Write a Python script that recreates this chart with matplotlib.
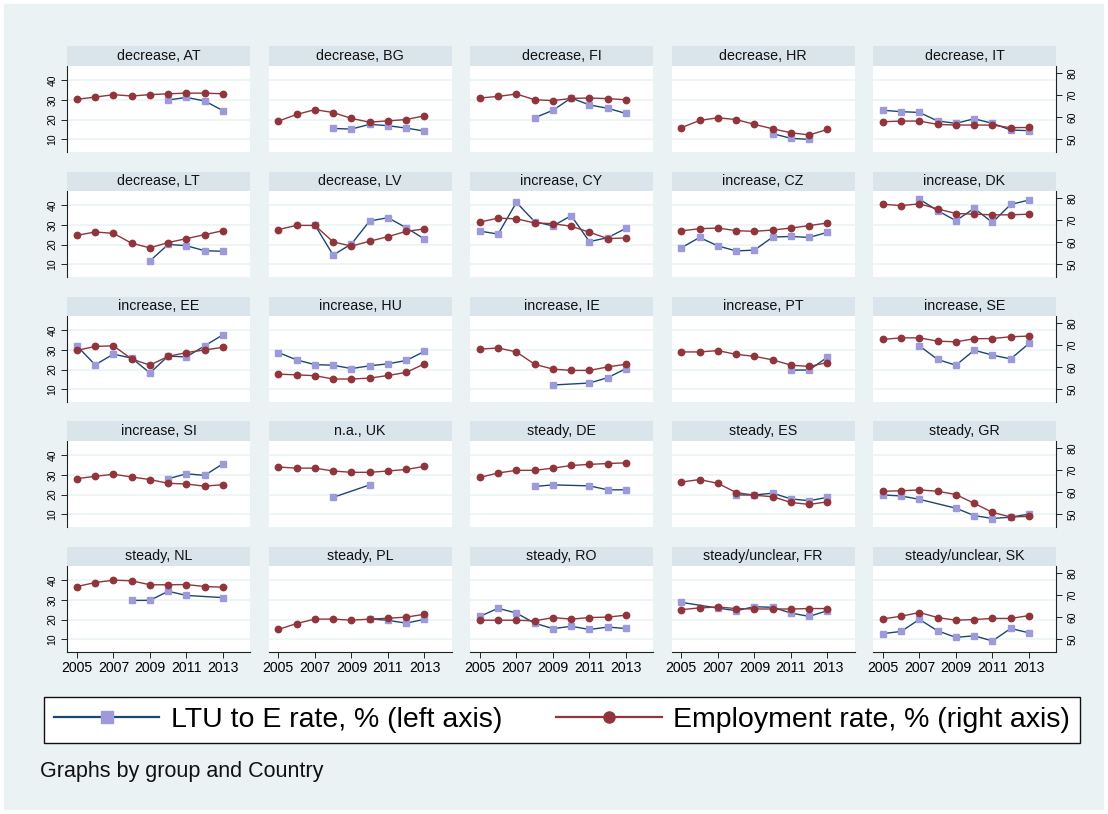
import numpy as np
import matplotlib
matplotlib.use('Agg')
import matplotlib.pyplot as plt
from matplotlib.patches import Rectangle
from matplotlib.lines import Line2D

plt.rcParams['font.family'] = ['Liberation Sans', 'DejaVu Sans']

nan = np.nan
years = np.arange(2005, 2014)
xticks = [2005, 2007, 2009, 2011, 2013]

# LTU to E rate (left axis) and employment rate (right axis), 2005-2013
AT_ltu = [nan, nan, nan, nan, nan, 29.9, 31.2, 29.4, 24.5]
AT_emp = [68.2, 69.2, 70.3, 69.7, 70.3, 70.7, 71.0, 71.0, 70.7]
BG_ltu = [nan, nan, nan, 15.5, 15.2, 17.6, 16.9, 15.7, 14.2]
BG_emp = [58.3, 61.3, 63.5, 62.2, 59.5, 57.8, 58.4, 59.0, 60.7]
FI_ltu = [nan, nan, nan, 20.9, 24.7, 30.9, 27.4, 25.7, 23.1]
FI_emp = [68.8, 69.5, 70.6, 68.0, 67.6, 68.6, 68.8, 68.5, 68.0]
HR_ltu = [nan, nan, nan, nan, nan, 12.9, 10.5, 10.0, nan]
HR_emp = [55.3, 58.6, 59.8, 59.0, 56.8, 54.8, 53.0, 52.0, 54.5]
IT_ltu = [24.7, 24.0, 23.6, 19.3, 18.1, 20.4, 18.1, 14.7, 14.4]
IT_emp = [58.0, 58.3, 58.3, 56.8, 56.5, 56.5, 56.5, 55.3, 55.4]
LT_ltu = [nan, nan, nan, nan, 11.7, 20.1, 19.4, 16.9, 16.6]
LT_emp = [63.2, 64.7, 64.1, 59.6, 57.5, 59.9, 61.7, 63.5, 65.3]
LV_ltu = [nan, nan, 29.9, 14.7, 20.3, 31.9, 33.6, 28.5, 22.8]
LV_emp = [65.8, 67.7, 67.7, 60.2, 58.3, 60.5, 62.6, 65.0, 66.1]
CY_ltu = [26.8, 25.3, 41.3, 31.6, 29.4, 34.6, 21.5, 23.5, 28.2]
CY_emp = [69.2, 71.0, 70.7, 68.8, 68.5, 67.3, 64.6, 61.7, 62.0]
CZ_ltu = [18.4, 23.6, 19.3, 16.8, 17.2, 23.8, 24.1, 23.6, 26.2]
CZ_emp = [65.2, 66.2, 66.5, 65.3, 65.0, 65.6, 66.5, 67.6, 68.8]
DK_ltu = [nan, nan, 43.0, 37.1, 32.1, 38.3, 31.2, 40.3, 42.5]
DK_emp = [77.3, 76.7, 77.5, 75.2, 73.1, 72.8, 72.5, 72.5, 72.8]
EE_ltu = [32.0, 22.4, 27.8, 25.8, 18.3, 26.8, 26.4, 32.0, 37.6]
EE_emp = [67.7, 69.5, 69.8, 63.8, 61.0, 65.0, 66.7, 67.9, 69.1]
HU_ltu = [28.6, 24.9, 22.5, 22.2, 20.5, 21.9, 22.9, 24.6, 29.2]
HU_emp = [56.9, 56.6, 56.2, 54.7, 54.7, 55.1, 56.3, 57.7, 61.6]
IE_ltu = [nan, nan, nan, nan, 12.2, nan, 13.2, 15.9, 20.5]
IE_emp = [68.3, 68.8, 67.0, 61.4, 59.2, 58.6, 58.6, 60.2, 61.4]
PT_ltu = [nan, nan, nan, nan, nan, nan, 19.7, 19.8, 26.3]
PT_emp = [67.0, 67.0, 67.6, 65.9, 65.0, 63.4, 61.0, 60.4, 62.2]
SE_ltu = [nan, nan, 32.0, 25.1, 22.2, 29.8, 27.3, 25.4, 33.2]
SE_emp = [72.7, 73.4, 73.4, 71.9, 71.6, 73.0, 73.1, 73.9, 74.2]
SI_ltu = [nan, nan, nan, nan, nan, 28.0, 30.5, 29.7, 35.6]
SI_emp = [66.2, 67.3, 68.2, 67.0, 65.8, 64.1, 63.8, 62.8, 63.5]
UK_ltu = [nan, nan, nan, 18.6, nan, 24.9, nan, nan, nan]
UK_emp = [71.5, 71.0, 71.0, 69.7, 69.1, 69.1, 69.7, 70.4, 71.8]
DE_ltu = [nan, nan, nan, 24.1, 24.9, nan, 24.4, 22.4, 22.4]
DE_emp = [66.8, 68.8, 70.0, 70.0, 71.0, 72.2, 72.7, 73.1, 73.4]
ES_ltu = [nan, nan, nan, 19.8, 19.8, 20.7, 17.8, 16.9, 18.6]
ES_emp = [64.7, 65.8, 64.1, 59.9, 58.7, 58.0, 55.4, 54.5, 55.7]
GR_ltu = [19.8, 19.3, 17.6, nan, 13.1, 9.4, 7.9, 8.6, 10.1]
GR_emp = [60.5, 60.7, 61.1, 60.5, 59.0, 55.0, 50.9, 48.8, 49.1]
NL_ltu = [nan, nan, nan, 29.7, 29.7, 34.3, 32.2, nan, 31.1]
NL_emp = [74.0, 75.8, 76.9, 76.6, 74.8, 74.8, 74.9, 74.0, 73.7]
PL_ltu = [nan, nan, nan, nan, nan, 20.4, 19.6, 18.2, 20.1]
PL_emp = [54.5, 57.2, 59.2, 59.2, 58.7, 59.2, 59.6, 60.1, 61.4]
RO_ltu = [21.6, 25.7, 23.3, 18.2, 15.4, 16.6, 15.0, 16.2, 15.5]
RO_emp = [58.7, 58.7, 58.7, 58.4, 59.9, 59.2, 59.9, 60.1, 61.0]
FR_ltu = [28.7, nan, 25.8, 24.5, 26.5, 26.2, 23.3, 21.6, 24.5]
FR_emp = [63.5, 64.3, 64.7, 64.0, 63.8, 63.8, 63.8, 64.0, 64.0]
SK_ltu = [12.9, 14.0, 20.1, 14.3, 11.0, 11.8, 9.2, 15.5, 13.3]
SK_emp = [59.3, 60.5, 62.2, 59.9, 58.7, 59.0, 59.5, 59.5, 60.8]

panels = [
    ('decrease, AT', AT_ltu, AT_emp), ('decrease, BG', BG_ltu, BG_emp),
    ('decrease, FI', FI_ltu, FI_emp), ('decrease, HR', HR_ltu, HR_emp),
    ('decrease, IT', IT_ltu, IT_emp), ('decrease, LT', LT_ltu, LT_emp),
    ('decrease, LV', LV_ltu, LV_emp), ('increase, CY', CY_ltu, CY_emp),
    ('increase, CZ', CZ_ltu, CZ_emp), ('increase, DK', DK_ltu, DK_emp),
    ('increase, EE', EE_ltu, EE_emp), ('increase, HU', HU_ltu, HU_emp),
    ('increase, IE', IE_ltu, IE_emp), ('increase, PT', PT_ltu, PT_emp),
    ('increase, SE', SE_ltu, SE_emp), ('increase, SI', SI_ltu, SI_emp),
    ('n.a., UK', UK_ltu, UK_emp), ('steady, DE', DE_ltu, DE_emp),
    ('steady, ES', ES_ltu, ES_emp), ('steady, GR', GR_ltu, GR_emp),
    ('steady, NL', NL_ltu, NL_emp), ('steady, PL', PL_ltu, PL_emp),
    ('steady, RO', RO_ltu, RO_emp), ('steady/unclear, FR', FR_ltu, FR_emp),
    ('steady/unclear, SK', SK_ltu, SK_emp),
]

# stata s2color look
bg = '#EAF2F3'
strip_col = '#D9E5EB'
navy = '#1A476F'
lavender = '#9C9ADA'
maroon = '#90353B'
axcol = '#222222'

W, H = 1108, 814
fig = plt.figure(figsize=(W / 100, H / 100), dpi=100, facecolor=bg)
fig.patches.append(Rectangle((0, 0), 1, 1, transform=fig.transFigure,
                             fc='none', ec='white', lw=5.5))

pw, ph, sh = 183, 85.7, 19.5
for i, (title, ltu, emp) in enumerate(panels):
    r, c = divmod(i, 5)
    left = 67 + c * 201.5
    top = 66 + r * 125
    ax = fig.add_axes([left / W, 1 - (top + ph) / H, pw / W, ph / H])
    ax2 = ax.twinx()  # twinx resets the left ticks, so style after it
    ax.set_facecolor('white')
    ax.set_xlim(2004.46, 2014.48)
    ax.set_ylim(3.76, 47.08)
    ax.set_yticks([10, 20, 30, 40])
    ax.set_xticks(xticks)
    ax.grid(axis='y', color=bg, lw=1.1)
    ax.set_axisbelow(True)
    for s in list(ax.spines.values()) + list(ax2.spines.values()):
        s.set_visible(False)
        s.set_linewidth(0.8)
        s.set_color(axcol)
    if c == 0:
        ax.spines['left'].set_visible(True)
    if r == 4:
        ax.spines['bottom'].set_visible(True)
    if c == 4:
        ax2.spines['right'].set_visible(True)

    ax.tick_params(axis='y', left=(c == 0), right=False, labelleft=(c == 0),
                   labelright=False, labelsize=7.5,
                   length=4 if c == 0 else 0, width=0.7, pad=3, color=axcol)
    ax.tick_params(axis='x', bottom=(r == 4), top=False, labelbottom=(r == 4),
                   labelsize=10.2, length=4 if r == 4 else 0, width=0.7, pad=3,
                   color=axcol)
    for lab in ax.get_yticklabels():
        lab.set_rotation(90)
        lab.set_va('center')

    y = np.array(ltu, dtype=float)
    m = ~np.isnan(y)
    ax.plot(years[m], y[m], color=navy, lw=1.0, marker='s', ms=5,
            mfc=lavender, mec=lavender, zorder=3)

    ax2.set_ylim(44.39, 83.33)
    ax2.set_yticks([50, 60, 70, 80])
    ax2.tick_params(axis='y', left=False, labelleft=False, right=(c == 4),
                    labelright=(c == 4), labelsize=7.5,
                    length=4 if c == 4 else 0, width=0.7, pad=4.5, color=axcol)
    for lab in ax2.get_yticklabels():
        lab.set_rotation(90)
        lab.set_va('center')
    ax2.plot(years, emp, color=maroon, lw=1.0, marker='o', ms=4.6,
             mfc=maroon, mec=maroon, zorder=3)

    # title strip
    fig.patches.append(Rectangle((left / W, 1 - top / H), pw / W, sh / H,
                                 transform=fig.transFigure, fc=strip_col, ec='none'))
    fig.text((left + pw / 2) / W, 1 - (top - sh / 2) / H, title,
             ha='center', va='center', fontsize=10.3, color='#111111')

handles = [
    Line2D([], [], color=navy, lw=1.6, marker='s', ms=9, mfc=lavender, mec=lavender),
    Line2D([], [], color=maroon, lw=1.6, marker='o', ms=8, mfc=maroon, mec=maroon),
]
labels = ['LTU to E rate, % (left axis)', 'Employment rate, % (right axis)']
leg = fig.legend(handles, labels, loc='center', ncol=2, mode='expand',
                 bbox_to_anchor=(44 / W, 1 - 747 / H, 1036 / W, 54 / H),
                 fontsize=20.5, handlelength=3.7, handletextpad=0.4,
                 borderpad=0.35, borderaxespad=0, frameon=True, fancybox=False,
                 framealpha=1, edgecolor='#111111')
leg.get_frame().set_linewidth(1.0)

fig.text(40 / W, 1 - 772 / H, 'Graphs by group and Country',
         ha='left', va='center', fontsize=15.5, color='#111111')

fig.savefig('out.png', dpi=100, facecolor=bg)
